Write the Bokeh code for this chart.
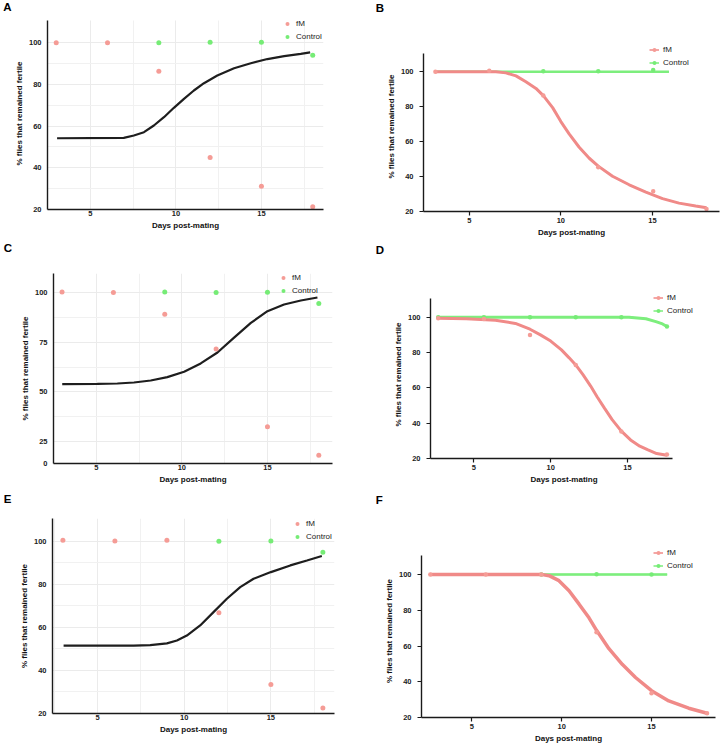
from bokeh.plotting import figure
from bokeh.layouts import column, row
from bokeh.models import Range1d, FixedTicker, Legend, LegendItem, Label
from bokeh.embed import file_html
from bokeh.resources import INLINE

FONT = "Liberation Sans"
FM_PT = "#F59C96"
CT_PT = "#76EC76"
FM_LN = "#F08A88"
CT_LN = "#7DEE7D"
X_TITLE = "Days post-mating"
Y_TITLE = "% flies that remained fertile"
LH = 16  # height of the strip that holds the panel letter

# ---------------- Panel A ----------------
a_fm_days = [3, 6, 9, 12, 15, 18]
a_fm = [100, 100, 86.4, 45.0, 31.2, 21.3]
a_ct_days = [9, 12, 15, 18]
a_ct = [100, 100.3, 100.3, 94.0]
a_fit_x = [3.05, 6.95, 7.54, 8.13, 8.71, 9.30, 9.88, 10.47, 11.05, 11.64, 12.42, 13.40, 14.38, 15.35, 16.33, 17.30, 17.85]
a_fit_y = [54.2, 54.4, 55.5, 57.1, 60.3, 64.3, 68.8, 73.1, 77.1, 80.6, 84.3, 87.8, 90.2, 92.2, 93.6, 94.7, 95.4]

# ---------------- Panel B ----------------
b_fm_days = [3.15, 6.09, 9.04, 12.04, 15.04, 17.95]
b_fm = [100, 100.6, 86.4, 45.4, 31.6, 21.5]
b_ct_days = [9.04, 12.04, 15.04]
b_ct = [100.4, 100.4, 101.0]
b_ct_line_x = [3.15, 15.9]
b_ct_line_y = [100, 100]
b_fm_line_x = [3.15, 6.45, 7.0, 7.55, 8.09, 8.64, 9.04, 9.55, 10.0, 10.45, 11.0, 11.55, 12.04, 12.82, 13.73, 14.64, 15.55, 16.45, 17.36, 17.95]
b_fm_line_y = [100, 100, 99.4, 97.7, 94.3, 90.5, 86.4, 79.5, 71.5, 64.5, 56.8, 50.5, 46.0, 40.2, 35.3, 31.1, 27.4, 24.8, 23.1, 22.1]

# ---------------- Panel C ----------------
c_fm_days = [3, 6, 9, 12, 15, 18]
c_fm = [100.3, 100, 89.1, 71.6, 32.4, 18.1]
c_ct_days = [9, 12, 15, 18]
c_ct = [100.3, 100, 100.2, 94.5]
c_fit_x = [3.01, 5.06, 6.23, 7.20, 8.18, 9.15, 10.13, 11.10, 12.08, 13.05, 14.03, 15.0, 15.97, 16.95, 17.92]
c_fit_y = [53.9, 54.0, 54.2, 54.7, 55.7, 57.4, 60.1, 64.3, 69.8, 77.3, 84.7, 90.6, 94.0, 96.0, 97.5]
c_yticks = [13.9, 25, 50, 75, 100]
c_ytick_labels = ["0", "25", "50", "75", "100"]

# ---------------- Panel D ----------------
d_days = [2.67, 5.65, 8.65, 11.63, 14.6, 17.57]
d_fm = [99.4, 99.0, 90.0, 73.0, 35.3, 22.3]
d_ct = [100, 100, 100, 100, 100, 94.7]
d_fm_line_x = [2.67, 4.5, 6.4, 7.7, 8.65, 9.33, 10.0, 10.7, 11.2, 11.63, 12.1, 12.6, 13.02, 13.5, 14.0, 14.6, 15.2, 15.8, 16.3, 16.9, 17.57]
d_fm_line_y = [99.4, 99.1, 98.3, 96.5, 93.2, 90.0, 86.5, 81.5, 77.0, 73.0, 67.5, 61.0, 55.0, 48.5, 42.0, 35.5, 30.5, 27.0, 25.0, 22.8, 21.8]
d_ct_line_x = [2.67, 15.1, 16.2, 16.85, 17.28, 17.57]
d_ct_line_y = [100, 100, 99.1, 97.5, 96.2, 94.7]

# ---------------- Panel E ----------------
e_fm_days = [3, 6, 9, 12, 15, 18]
e_fm = [100.5, 100.2, 100.5, 66.8, 33.5, 22.5]
e_ct_days = [12, 15, 18]
e_ct = [100, 100.2, 94.9]
e_fit_x = [3.04, 5.15, 7.08, 8.04, 9.0, 9.58, 10.15, 10.92, 11.69, 12.46, 13.23, 14.0, 15.0, 16.12, 17.08, 17.94]
e_fit_y = [51.5, 51.5, 51.5, 51.8, 52.6, 53.9, 56.2, 60.9, 67.1, 73.3, 78.7, 82.6, 85.7, 88.8, 91.1, 93.2]

# ---------------- Panel F ----------------
f_fm_days = [2.69, 5.78, 8.87, 11.94, 15.0, 18.09]
f_fm = [100, 100, 100, 67.7, 33.6, 22.4]
f_ct_days = [8.87, 11.94, 15.0]
f_ct = [100, 100.2, 100]
f_ct_line_x = [8.87, 15.87]
f_ct_line_y = [100, 100]
f_fm_line_x = [2.69, 8.93, 9.30, 9.85, 10.41, 10.96, 11.52, 11.94, 12.63, 13.37, 14.11, 15.0, 15.96, 17.07, 18.09]
f_fm_line_y = [100, 100, 99.4, 96.6, 91.0, 83.6, 75.8, 68.8, 58.5, 49.8, 42.4, 35.0, 29.3, 25.2, 22.4]


def letter_strip(width, letter, pos):
    lx, ly = pos
    s = figure(width=width, height=LH, output_backend="svg", toolbar_location=None,
               x_range=Range1d(0, width), y_range=Range1d(0, LH), title=None,
               frame_align=False, min_border=0, min_border_left=0, min_border_right=0,
               min_border_top=0, min_border_bottom=0)
    s.axis.visible = False
    s.grid.visible = False
    s.outline_line_color = None
    s.background_fill_color = "white"
    s.border_fill_color = "white"
    s.add_layout(Label(x=lx, y=LH - ly, x_units="screen", y_units="screen", text=letter,
                       text_font=FONT, text_font_size="11.5px", text_font_style="bold",
                       text_baseline="top", text_align="left", text_color="black"))
    return s


def base(width, height, box, xr, yr, yticks, ggplot, yminor=None, y_overrides=None,
         xbounds=None, ybounds=None):
    l, t, r, b = box
    p = figure(width=width, height=height - LH, output_backend="svg", toolbar_location=None,
               x_range=Range1d(*xr), y_range=Range1d(*yr), title=None, frame_align=False,
               min_border_left=l, min_border_top=t - LH, min_border_right=width - r,
               min_border_bottom=height - b)
    p.outline_line_color = None
    p.background_fill_color = "white"
    p.border_fill_color = "white"
    p.xaxis.ticker = FixedTicker(ticks=[5, 10, 15], minor_ticks=[2.5, 7.5, 12.5, 17.5])
    p.yaxis.ticker = FixedTicker(ticks=yticks, minor_ticks=yminor or [])
    if y_overrides:
        p.yaxis.major_label_overrides = y_overrides
    if xbounds:
        p.xaxis.bounds = xbounds
    if ybounds:
        p.yaxis.bounds = ybounds
    p.xaxis.axis_label = X_TITLE
    p.yaxis.axis_label = Y_TITLE
    for ax in (p.xaxis[0], p.yaxis[0]):
        ax.axis_line_color = "#1a1a1a"
        ax.axis_line_width = 1.4
        ax.major_label_text_font = FONT
        ax.major_label_text_font_size = "7.5px"
        ax.major_label_text_font_style = "bold"
        ax.major_label_text_color = "#222222"
        ax.axis_label_text_font = FONT
        ax.axis_label_text_font_size = "8px"
        ax.axis_label_text_font_style = "bold"
        ax.axis_label_text_color = "#111111"
        ax.minor_tick_line_color = None
        ax.minor_tick_out = 0
        ax.minor_tick_in = 0
        ax.axis_label_standoff = 2
        if ggplot:
            ax.major_tick_line_color = None
            ax.major_tick_out = 0
            ax.major_tick_in = 0
        else:
            ax.major_tick_line_color = "#1a1a1a"
            ax.major_tick_line_width = 1.2
            ax.major_tick_out = 4
            ax.major_tick_in = 0
    if ggplot:
        p.xaxis.major_label_standoff = 1
        p.yaxis.major_label_standoff = 6
        p.xgrid.grid_line_color = "#ebebeb"
        p.ygrid.grid_line_color = "#ebebeb"
        p.xgrid.minor_grid_line_color = "#f1f1f1"
        p.ygrid.minor_grid_line_color = "#f1f1f1"
        if ybounds:
            p.xgrid.cross_bounds = ybounds
    else:
        p.xaxis.major_label_standoff = 2
        p.yaxis.major_label_standoff = 6
        p.xgrid.visible = False
        p.ygrid.visible = False
    return p


def make_legend(items, location):
    return Legend(items=items, location=location, orientation="vertical",
                  padding=0, margin=0, spacing=0, label_height=13, glyph_height=13,
                  glyph_width=10, label_standoff=4, background_fill_alpha=0,
                  border_line_alpha=0, label_text_font=FONT, label_text_font_size="8px",
                  label_text_color="#222222")


def gg_panel(width, height, box, xr, yr, yticks, yminor, fm_x, fm_y, ct_x, ct_y, fit_x, fit_y,
             letter, letter_pos, leg_pos, y_overrides=None, ybounds=None):
    l, t, r, b = box
    p = base(width, height, box, xr, yr, yticks, True, yminor, y_overrides, None, ybounds)
    p.line(fit_x, fit_y, line_color="#1e1e1e", line_width=2.2)
    r_fm = p.scatter(fm_x, fm_y, size=5, color=FM_PT, line_color=None)
    r_ct = p.scatter(ct_x, ct_y, size=5, color=CT_PT, line_color=None)
    gx, top = leg_pos
    p.add_layout(make_legend([LegendItem(label="fM", renderers=[r_fm]),
                              LegendItem(label="Control", renderers=[r_ct])],
                             (gx - l, b - (top + 26))))
    return column(letter_strip(width, letter, letter_pos), p, spacing=0)


def prism_panel(width, height, box, xr, yr, fm_x, fm_y, ct_x, ct_y, fm_lx, fm_ly, ct_lx, ct_ly,
                letter, letter_pos, leg_pos, fm_w=3.0, ct_w=2.5, xbounds=None, ybounds=None):
    l, t, r, b = box
    p = base(width, height, box, xr, yr, [20, 40, 60, 80, 100], False, None, None,
             xbounds, ybounds)
    # thin copies of the curves (hidden under the thick ones) give the legend keys
    k_ct = p.line(ct_lx, ct_ly, line_color=CT_LN, line_width=1.5)
    k_fm = p.line(fm_lx, fm_ly, line_color=FM_LN, line_width=1.5)
    p.line(ct_lx, ct_ly, line_color=CT_LN, line_width=ct_w)
    s_ct = p.scatter(ct_x, ct_y, size=4.5, color=CT_PT, line_color=None)
    p.line(fm_lx, fm_ly, line_color=FM_LN, line_width=fm_w)
    s_fm = p.scatter(fm_x, fm_y, size=4.5, color=FM_PT, line_color=None)
    gx, top = leg_pos
    p.add_layout(make_legend([LegendItem(label="fM", renderers=[k_fm, s_fm]),
                              LegendItem(label="Control", renderers=[k_ct, s_ct])],
                             (gx - l, b - (top + 26))))
    return column(letter_strip(width, letter, letter_pos), p, spacing=0)


pA = gg_panel(362, 240, (47, 17, 323, 209), (2.49, 18.63), (20, 112.14), [20, 40, 60, 80, 100],
              [30, 50, 70, 90], a_fm_days, a_fm, a_ct_days, a_ct, a_fit_x, a_fit_y,
              "A", (2.7, 0.4), (282, 16.5), ybounds=(20, 110.7))
pB = prism_panel(362, 240, (61, 41, 357, 211), (2.5, 18.66), (20, 117.37),
                 b_fm_days, b_fm, b_ct_days, b_ct, b_fm_line_x, b_fm_line_y,
                 b_ct_line_x, b_ct_line_y, "B", (13.3, 1), (287, 43), ybounds=(20, 110.5))
pC = gg_panel(362, 250, (53, 33, 332, 223), (2.5, 18.8), (13.9, 109.6), c_yticks,
              [37.5, 62.5, 87.5], c_fm_days, c_fm, c_ct_days, c_ct, c_fit_x, c_fit_y,
              "C", (3.3, 1.7), (278, 31.2),
              y_overrides={t: s for t, s in zip(c_yticks, c_ytick_labels)})
pD = prism_panel(362, 250, (68, 50, 335, 218), (2.17, 19.56), (20, 115.13),
                 d_days, d_fm, d_days, d_ct, d_fm_line_x, d_fm_line_y,
                 d_ct_line_x, d_ct_line_y, "D", (13.3, 3.7), (291, 51), fm_w=3.0, ct_w=3.0,
                 xbounds=(2.17, 17.93), ybounds=(20, 110.6))
pE = gg_panel(362, 259, (52, 28, 334, 223), (2.4, 18.67), (20, 110.6), [20, 40, 60, 80, 100],
              [30, 50, 70, 90], e_fm_days, e_fm, e_ct_days, e_ct, e_fit_x, e_fit_y,
              "E", (3.3, 2.7), (292, 27))
pF = prism_panel(362, 259, (59, 54, 353, 227), (2.2, 18.56), (20, 116.86),
                 f_fm_days, f_fm, f_ct_days, f_ct, f_fm_line_x, f_fm_line_y,
                 f_ct_line_x, f_ct_line_y, "F", (13.3, 3.7), (291, 56), fm_w=3.5, ct_w=2.5,
                 ybounds=(20, 110.7))

page = column(row(pA, pB, spacing=0), row(pC, pD, spacing=0), row(pE, pF, spacing=0), spacing=0)

open("out.html", "w").write(file_html(page, INLINE))
